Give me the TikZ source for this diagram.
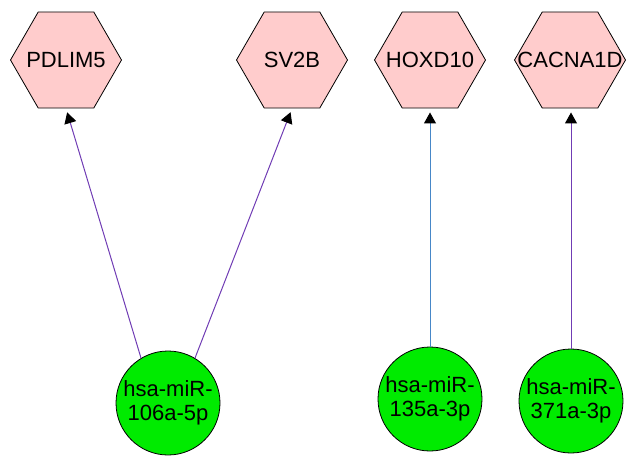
\documentclass[tikz,border=0pt]{standalone}
\usepackage{fontspec}
\setmainfont{Liberation Sans}
\usetikzlibrary{shapes.geometric,arrows.meta}
\definecolor{hexfill}{RGB}{255,204,204}
\definecolor{mirfill}{RGB}{0,235,0}
\definecolor{edgepurple}{RGB}{112,60,180}
\definecolor{edgeblue}{RGB}{70,135,200}
\tikzset{
  txt/.style={font=\fontsize{22}{24}\selectfont, align=center, inner sep=0pt},
  gene/.style={regular polygon, regular polygon sides=6, minimum size=111pt, inner sep=0pt,
    draw=black, line width=0.8pt, fill=hexfill, label={[txt]center:#1}},
  mir/.style={circle, minimum size=104pt, inner sep=0pt, draw=black, line width=0.8pt,
    fill=mirfill, label={[txt]center:#1}},
  edge/.style={line width=1pt, shorten >=4pt,
    -{Triangle[length=11pt,width=12pt,color=black]}}
}
\begin{document}
\begin{tikzpicture}[x=1pt,y=-1pt]
\useasboundingbox (0,0) rectangle (628,455);
\node[gene=PDLIM5] (pdlim5) at (66,60) {};
\node[gene=SV2B] (sv2b) at (292,60) {};
\node[gene=HOXD10] (hoxd10) at (430,60) {};
\node[gene=CACNA1D] (cacna1d) at (570,60) {};
\node[mir={hsa-miR-\\106a-5p}] (m106) at (168,403) {};
\node[mir={hsa-miR-\\135a-3p}] (m135) at (430,399) {};
\node[mir={hsa-miR-\\371a-3p}] (m371) at (571,401) {};
\draw[edge, edgepurple] (m106.121.5) -- (pdlim5.south);
\draw[edge, edgepurple] (m106.59.4) -- (sv2b.south);
\draw[edge, edgeblue] (m135.north) -- (hoxd10.south);
\draw[edge, edgepurple] (m371.north) -- (m371.north |- cacna1d.south);
\end{tikzpicture}
\end{document}
